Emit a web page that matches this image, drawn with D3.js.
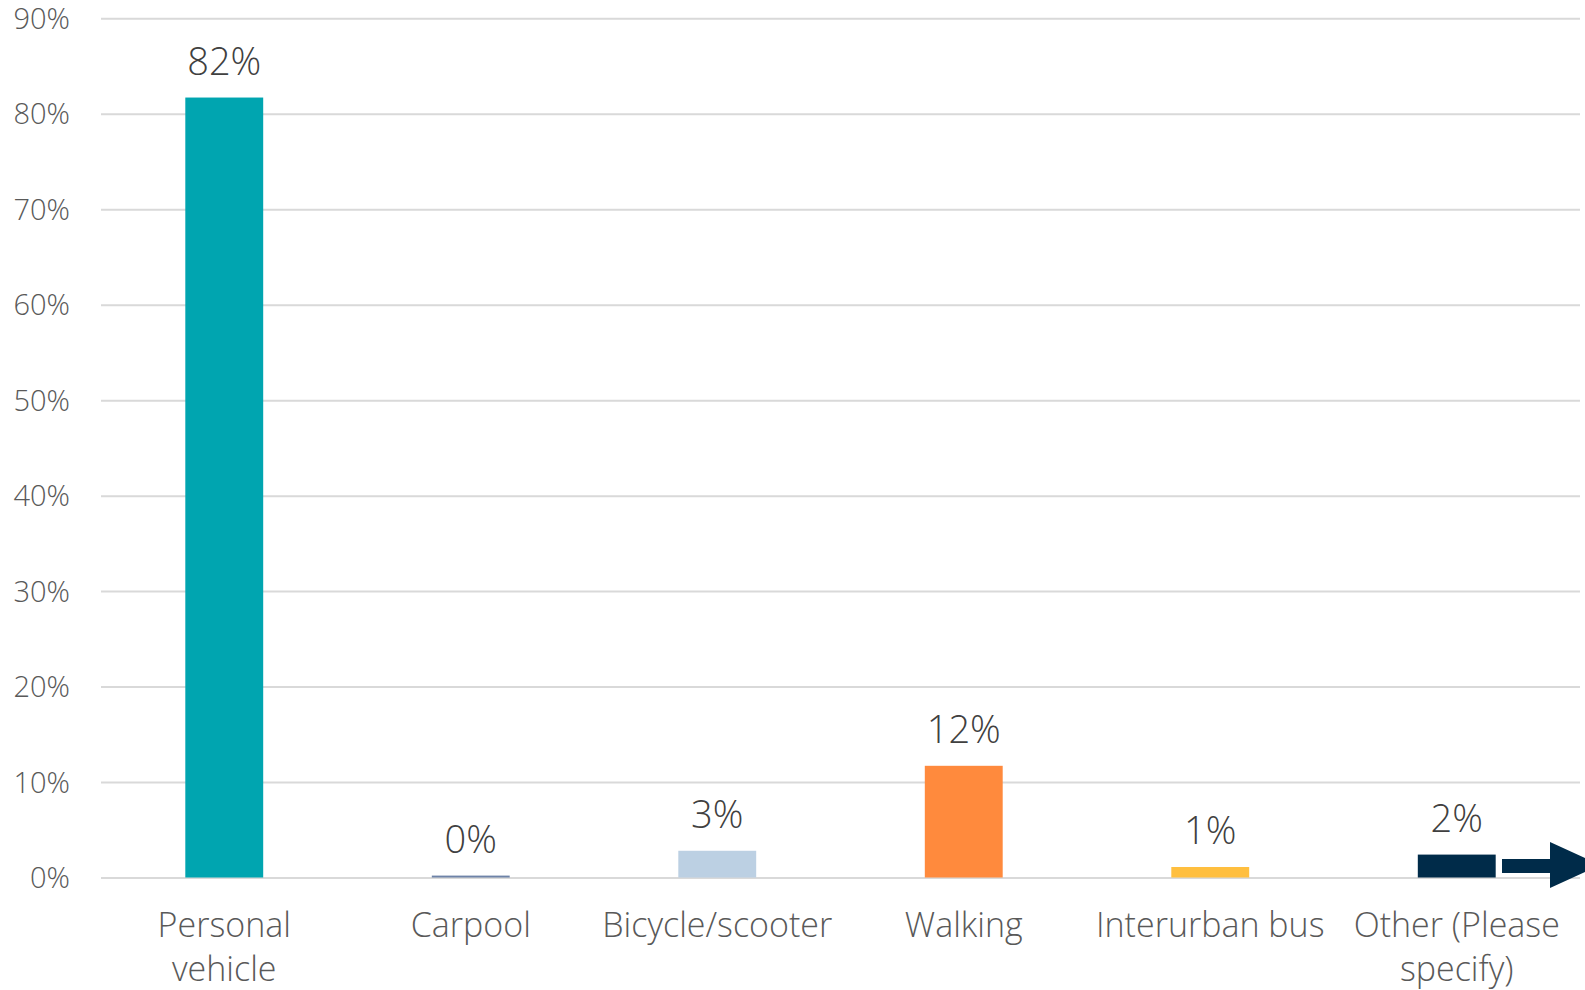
<!DOCTYPE html>
<html><head><meta charset="utf-8">
<script src="https://cdn.jsdelivr.net/npm/d3@7"></script>
<style>html,body{margin:0;padding:0;background:#fff;}svg{display:block;}</style>
</head><body>
<svg id="chart" width="1585" height="990"></svg>
<script>
const categories = ["Personal vehicle", "Carpool", "Bicycle/scooter", "Walking", "Interurban bus", "Other (Please specify)"];
const values = [81.7, 0.2, 2.8, 11.7, 1.1, 2.4];
const valueLabels = ["82%", "0%", "3%", "12%", "1%", "2%"];
const colors = ["#00A5B0", "#6E83A8", "#BCD0E3", "#FF8A3D", "#FFBF3F", "#002B49"];
const yTicks = [0, 10, 20, 30, 40, 50, 60, 70, 80, 90];

(function () {
const svg = d3.select("#chart");
const font = "'Open Sans', sans-serif";
const fw = 300;
const pLeft = 101, pRight = 1580, pTop = 18.3, pBottom = 877.5;

const x = d3.scaleBand().domain(categories).range([pLeft, pRight]).paddingInner(0.684).paddingOuter(0.342);
const y = d3.scaleLinear().domain([0, 90]).range([pBottom, pTop]);

// gridlines
const yAxis = d3.axisLeft(y).tickValues(yTicks).tickFormat(d => d + "%").tickSize(-(pRight - pLeft)).tickPadding(31);
const gy = svg.append("g").attr("transform", `translate(${pLeft},0)`).call(yAxis);
gy.select(".domain").remove();
gy.selectAll(".tick line").attr("stroke", "#d9d9d9").attr("stroke-width", 2);
gy.selectAll(".tick text").attr("fill", "#595959").attr("font-family", font).attr("font-weight", fw).attr("font-size", 29).attr("dy", "0.35em");

// bars
svg.append("g").selectAll("rect").data(categories).join("rect")
  .attr("x", d => x(d)).attr("width", x.bandwidth())
  .attr("y", (d, i) => y(values[i])).attr("height", (d, i) => y(0) - y(values[i]))
  .attr("fill", (d, i) => colors[i]);

// data labels
svg.append("g").selectAll("text").data(categories).join("text")
  .attr("x", d => x(d) + x.bandwidth() / 2)
  .attr("y", (d, i) => y(values[i]) - 23)
  .attr("text-anchor", "middle").attr("fill", "#404040")
  .attr("font-family", font).attr("font-weight", fw).attr("font-size", 38)
  .text((d, i) => valueLabels[i]);

// category axis labels
const xAxis = d3.axisBottom(x).tickSize(0).tickPadding(0);
const gx = svg.append("g").attr("transform", `translate(0,${pBottom})`).call(xAxis);
gx.select(".domain").remove();
gx.selectAll(".tick text").remove();
const catLines = {"Personal vehicle": ["Personal", "vehicle"], "Other (Please specify)": ["Other (Please", "specify)"]};
gx.selectAll(".tick").each(function (d) {
  const lines = catLines[d] || [d];
  const t = d3.select(this).append("text").attr("text-anchor", "middle").attr("fill", "#595959")
    .attr("font-family", font).attr("font-weight", fw).attr("font-size", 34);
  lines.forEach((l, i) => t.append("tspan").attr("x", 0).attr("y", 59.5 + i * 44).text(l));
});

// arrow annotation
const arrow = d3.path();
arrow.moveTo(1502, 859); arrow.lineTo(1550, 859); arrow.lineTo(1550, 842);
arrow.lineTo(1600, 865); arrow.lineTo(1550, 888); arrow.lineTo(1550, 873); arrow.lineTo(1502, 873); arrow.closePath();
svg.append("path").attr("d", arrow.toString()).attr("fill", "#002B49");
})();
</script>
</body></html>
